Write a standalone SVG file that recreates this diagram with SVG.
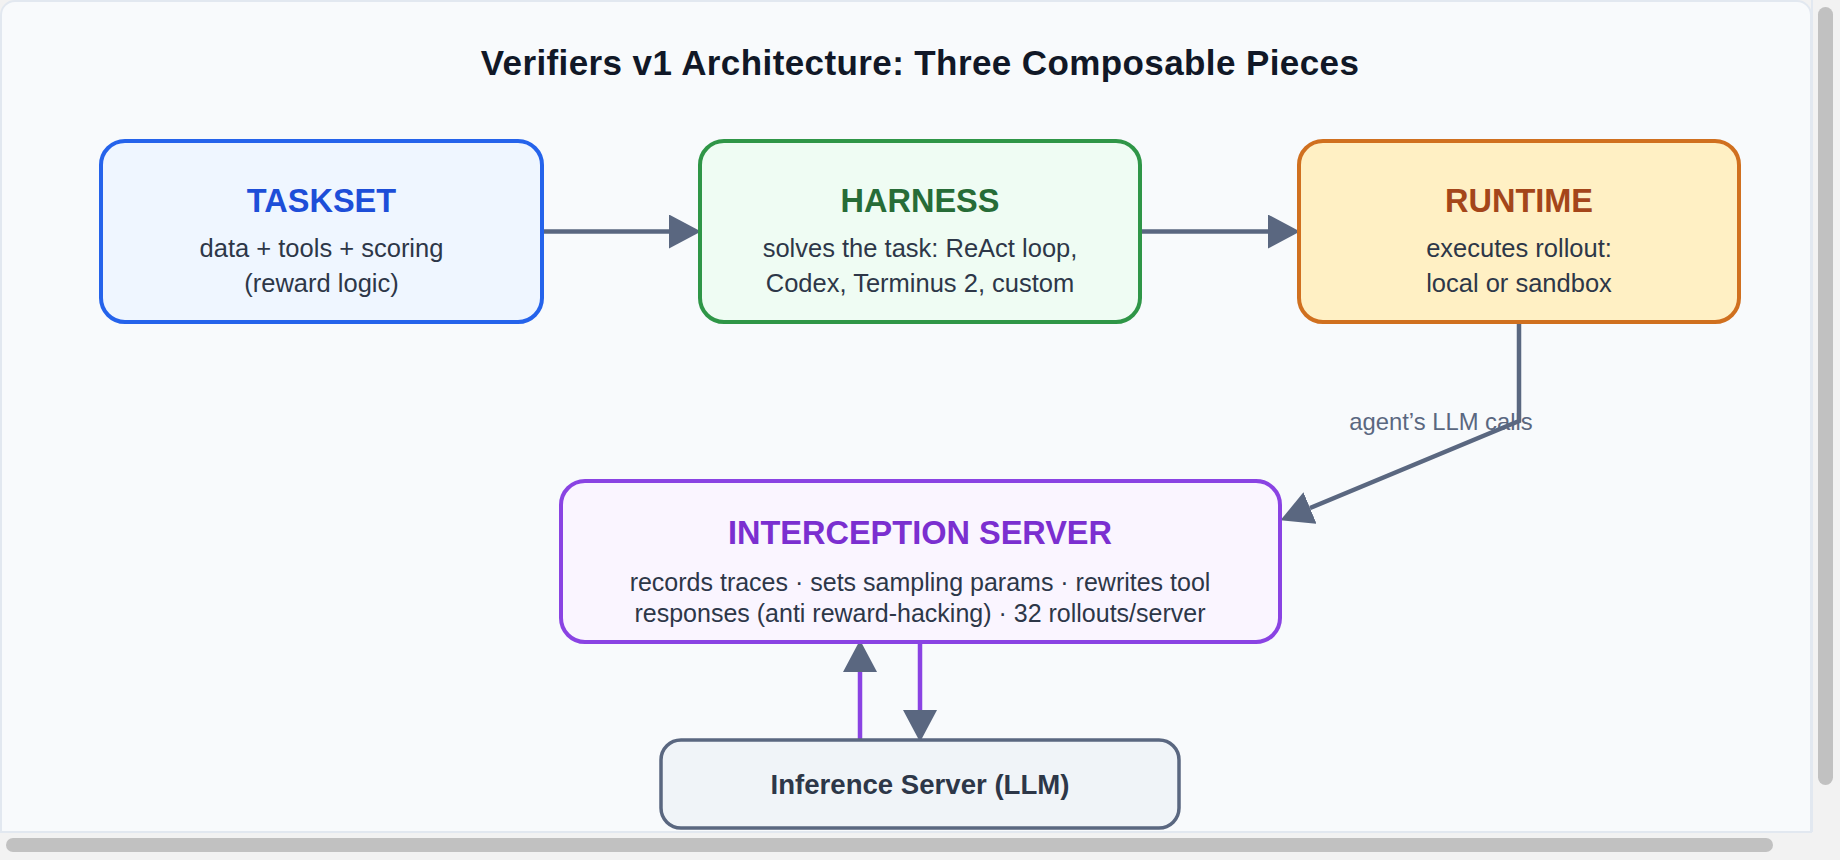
<svg xmlns="http://www.w3.org/2000/svg" width="1840" height="860" viewBox="0 0 1840 860">
<style>
  text { font-family: "Liberation Sans", Arial, Helvetica, sans-serif; text-anchor: middle; }
  .title { font-size: 35px; font-weight: bold; fill: #111827; letter-spacing: 0.4px; }
  .ntitle { font-size: 32.5px; font-weight: bold; }
  .body { font-size: 25.5px; fill: #2d3748; }
  .ibody { font-size: 25px; fill: #2d3748; }
  .node { stroke-width: 4; }
  .conn { fill: none; stroke: #5a6780; stroke-width: 4.5; }
  .pconn { fill: none; stroke: #8a43e3; stroke-width: 4.5; }
  .lbl { font-size: 23.8px; fill: #5a6780; }
  .sb { fill: #c1c1c1; }
</style>
<defs>
  <marker id="ah" markerUnits="userSpaceOnUse" markerWidth="32" markerHeight="34" refX="0" refY="17" orient="auto" viewBox="0 0 32 34">
    <path d="M0,0 L32,17 L0,34 z" fill="#5a6780"/>
  </marker>
</defs>

<rect x="0" y="0" width="1840" height="860" fill="#f2f2f2"/>
<rect x="1" y="1" width="1810" height="860" rx="14" fill="#f8fafc" stroke="#e2e8f0" stroke-width="2"/>

<text class="title" x="920" y="75">Verifiers v1 Architecture: Three Composable Pieces</text>

<g id="connectors">
  <line class="conn" x1="542" y1="231.5" x2="669" y2="231.5" marker-end="url(#ah)"/>
  <line class="conn" x1="1140" y1="231.5" x2="1268" y2="231.5" marker-end="url(#ah)"/>
  <text class="lbl" x="1441" y="430">agent’s LLM calls</text>
  <polyline class="conn" points="1519,322 1519,421 1310,508" marker-end="url(#ah)"/>
  <line class="pconn" x1="860" y1="740" x2="860" y2="672" marker-end="url(#ah)"/>
  <line class="pconn" x1="920" y1="642" x2="920" y2="710" marker-end="url(#ah)"/>
</g>

<g id="taskset">
  <rect class="node" x="101" y="141" width="441" height="181" rx="24" fill="#eff6ff" stroke="#2563eb"/>
  <text class="ntitle" x="321.5" y="212" fill="#1d4ed8">TASKSET</text>
  <text class="body" x="321.5" y="257">data + tools + scoring</text>
  <text class="body" x="321.5" y="292">(reward logic)</text>
</g>

<g id="harness">
  <rect class="node" x="700" y="141" width="440" height="181" rx="24" fill="#effcf3" stroke="#2f9647"/>
  <text class="ntitle" x="920" y="212" fill="#276c37">HARNESS</text>
  <text class="body" x="920" y="257">solves the task: ReAct loop,</text>
  <text class="body" x="920" y="292">Codex, Terminus 2, custom</text>
</g>

<g id="runtime">
  <rect class="node" x="1299" y="141" width="440" height="181" rx="24" fill="#fff0c4" stroke="#d0701f"/>
  <text class="ntitle" x="1519" y="212" fill="#a4461a">RUNTIME</text>
  <text class="body" x="1519" y="257">executes rollout:</text>
  <text class="body" x="1519" y="292">local or sandbox</text>
</g>

<g id="interception">
  <rect class="node" x="561" y="481" width="719" height="161" rx="24" fill="#faf5ff" stroke="#8a43e3"/>
  <text class="ntitle" x="920" y="544" fill="#7b2fd0">INTERCEPTION SERVER</text>
  <text class="ibody" x="920" y="591">records traces · sets sampling params · rewrites tool</text>
  <text class="ibody" x="920" y="622">responses (anti reward-hacking) · 32 rollouts/server</text>
</g>

<g id="inference">
  <rect x="661" y="740" width="518" height="88" rx="20" fill="#f0f4f8" stroke="#5a6780" stroke-width="3.5"/>
  <text x="920" y="794" style="font-size:27.6px;font-weight:bold;fill:#2d3748">Inference Server (LLM)</text>
</g>

<rect x="0" y="832" width="1840" height="28" fill="#f2f2f2"/>
<line x1="0" y1="832" x2="1812" y2="832" stroke="#e2e8f0" stroke-width="2"/>
<rect x="1812" y="0" width="28" height="832" fill="#f2f2f2"/>
<line x1="1812" y1="0" x2="1812" y2="832" stroke="#e2e8f0" stroke-width="2"/>
<rect class="sb" x="1818" y="7" width="15" height="778" rx="7.5"/>
<rect class="sb" x="6" y="838" width="1767" height="14" rx="7"/>
</svg>
